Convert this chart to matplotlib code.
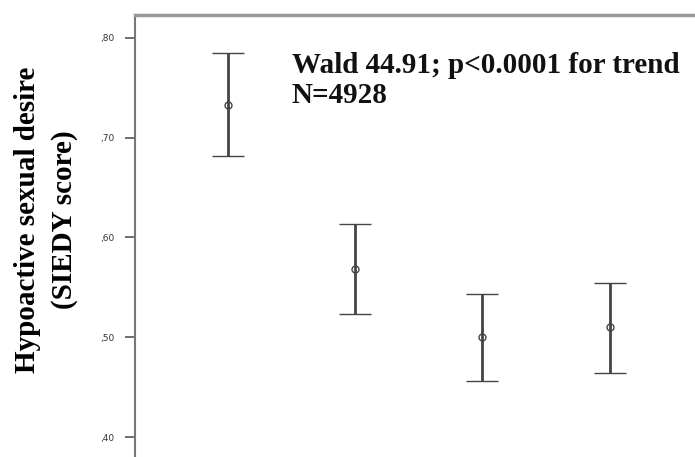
import matplotlib
matplotlib.use("Agg")
from matplotlib import pyplot as plt

groups = [1, 2, 3, 4]
means = [0.733, 0.568, 0.500, 0.510]
upper = [0.785, 0.614, 0.543, 0.554]
lower = [0.682, 0.523, 0.456, 0.464]
yticks = [0.40, 0.50, 0.60, 0.70, 0.80]
ytick_labels = [",40", ",50", ",60", ",70", ",80"]

err_low = [m - l for m, l in zip(means, lower)]
err_high = [u - m for m, u in zip(means, upper)]

fig = plt.figure(figsize=(6.95, 4.57), dpi=100)
ax = fig.add_axes([135 / 695, 0, 1 - 135 / 695, (457 - 15) / 457])

ax.errorbar(groups, means, yerr=[err_low, err_high], fmt='o', color='#444444',
            ecolor='#444444', elinewidth=2, capsize=11.5, capthick=2,
            markersize=5, markerfacecolor='none', markeredgewidth=1)

ax.set_xlim(0.27, 4.67)
ax.set_ylim(0.38, 0.823)
ax.set_yticks(yticks)
ax.set_yticklabels(ytick_labels, fontsize=6.5, color='#333333')
ax.tick_params(axis='y', length=7, width=1.2, color='#555555', pad=8)
ax.set_xticks([])

for side in ['right', 'bottom']:
    ax.spines[side].set_visible(False)
ax.spines['left'].set_color('#777777')
ax.spines['left'].set_linewidth(1.5)
ax.spines['top'].set_color('#999999')
ax.spines['top'].set_linewidth(2.5)

# y axis title, two lines
fig.text(28 / 695, 1 - 220 / 457, "Hypoactive sexual desire", rotation=90,
         ha='center', va='center', fontsize=21, fontweight='bold',
         family='Liberation Serif')
fig.text(64 / 695, 1 - 220 / 457, "(SIEDY score)", rotation=90,
         ha='center', va='center', fontsize=21, fontweight='bold',
         family='Liberation Serif')

fig.text(292 / 695, 1 - 73 / 457, "Wald 44.91; p<0.0001 for trend",
         ha='left', va='baseline', fontsize=21, fontweight='bold',
         family='Liberation Serif', color='#111111')
fig.text(292 / 695, 1 - 103 / 457, "N=4928",
         ha='left', va='baseline', fontsize=21, fontweight='bold',
         family='Liberation Serif', color='#111111')

fig.savefig("out.png", dpi=100)
